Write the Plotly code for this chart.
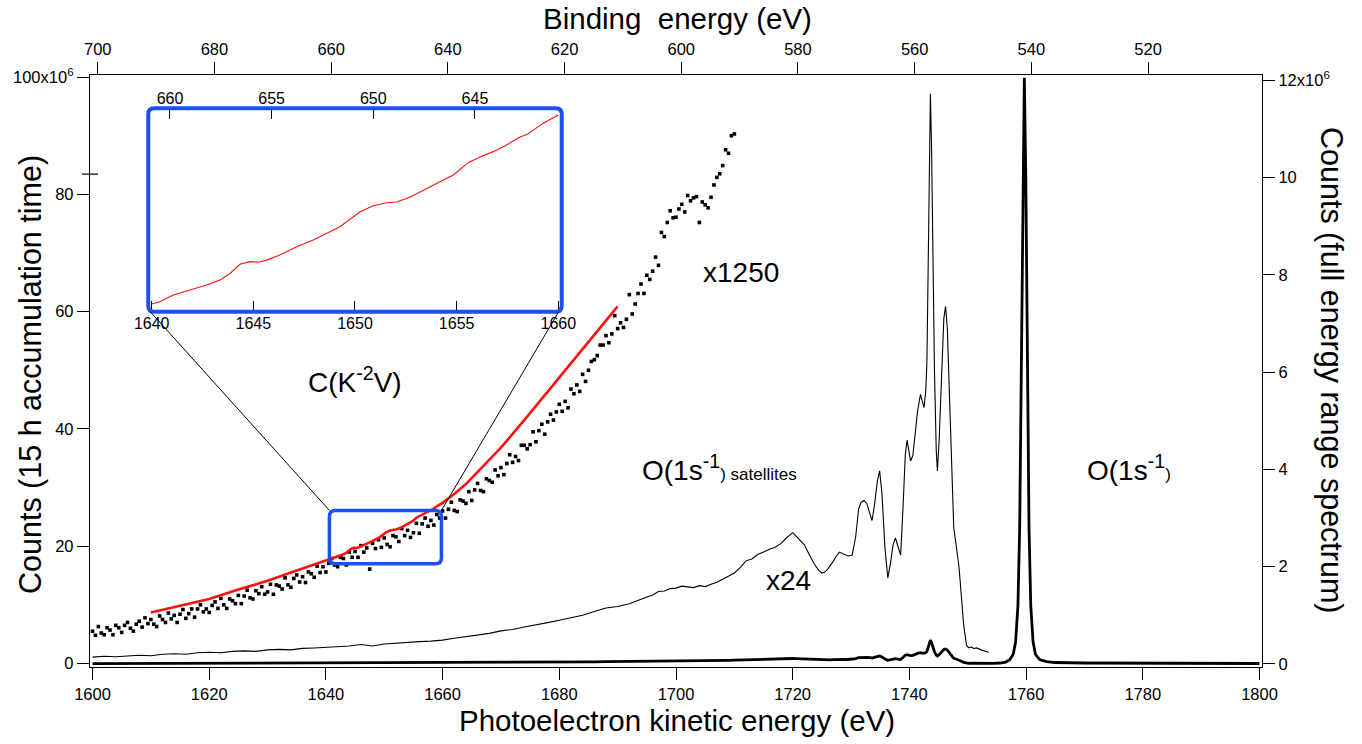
import plotly.graph_objects as go

# ---------------- data ----------------
HV = 2300.9          # binding energy = HV - kinetic energy (eV)
X24 = 24             # magnification of the satellite trace

# satellite region of the full-range spectrum, as drawn magnified x24 (right axis, 1e6 counts)
sat_ke = [1600, 1602, 1604, 1606, 1608, 1610, 1612, 1614, 1616, 1618, 1620, 1622, 1624, 1626,
          1628, 1630, 1632, 1634, 1636, 1638, 1640, 1642, 1644, 1646, 1648, 1650, 1652, 1654,
          1656, 1658, 1660, 1662, 1664, 1666, 1668, 1670, 1672, 1674, 1676, 1678, 1680, 1682,
          1684, 1686, 1688, 1690, 1692, 1694, 1696, 1697, 1698, 1699, 1700, 1701, 1702, 1703,
          1704, 1705, 1706, 1707, 1708, 1709, 1710, 1711, 1712, 1713, 1714, 1715, 1716, 1717,
          1718, 1719, 1719.5, 1720, 1720.5, 1721, 1721.5, 1722, 1722.5, 1723, 1723.5, 1724,
          1724.5, 1725, 1725.5, 1726, 1726.5, 1727, 1727.5, 1728, 1728.5, 1729, 1729.5, 1730.2,
          1730.8, 1731.3, 1731.7, 1732.2, 1732.7, 1733.2, 1733.6, 1734.0, 1734.5, 1734.9, 1735.3,
          1735.8, 1736.3, 1736.8, 1737.2, 1737.6, 1738.0, 1738.5, 1738.9, 1739.3, 1739.6, 1740.0,
          1740.2, 1740.6, 1741.0, 1741.4, 1741.9, 1742.2, 1742.5, 1742.8, 1743.0, 1743.2, 1743.4,
          1743.6, 1743.8, 1744.0, 1744.3, 1744.6, 1744.8, 1745.1, 1745.5, 1745.9, 1746.2, 1746.5,
          1746.9, 1747.3, 1747.6, 1748.0, 1748.5, 1748.9, 1749.3, 1749.8, 1750.2, 1750.6, 1751.0,
          1751.5, 1752.0, 1752.5, 1753.0, 1753.6]
sat_x24 = [0.14, 0.16, 0.15, 0.17, 0.18, 0.17, 0.20, 0.21, 0.20, 0.23, 0.24, 0.23, 0.26, 0.27,
           0.26, 0.29, 0.30, 0.29, 0.32, 0.33, 0.34, 0.36, 0.37, 0.40, 0.37, 0.41, 0.43, 0.44,
           0.46, 0.47, 0.49, 0.53, 0.56, 0.60, 0.63, 0.68, 0.71, 0.76, 0.80, 0.85, 0.90, 0.95,
           1.00, 1.08, 1.15, 1.18, 1.24, 1.33, 1.42, 1.49, 1.50, 1.55, 1.56, 1.60, 1.59, 1.57,
           1.61, 1.59, 1.64, 1.68, 1.74, 1.80, 1.87, 1.98, 2.12, 2.16, 2.25, 2.30, 2.36, 2.40,
           2.48, 2.60, 2.66, 2.70, 2.64, 2.58, 2.52, 2.45, 2.33, 2.20, 2.10, 2.00,
           1.92, 1.87, 1.89, 1.95, 2.03, 2.12, 2.22, 2.30, 2.27, 2.25, 2.22, 2.24,
           2.62, 3.19, 3.32, 3.36, 3.30, 3.10, 2.95, 3.25, 3.75, 3.97, 3.50,
           2.40, 1.77, 2.10, 2.45, 2.59, 2.45, 2.24, 3.20, 4.30, 4.60, 4.30,
           4.17, 4.29, 4.80, 5.20, 5.54, 5.40, 5.27, 5.60, 6.20, 8.00, 10.5,
           11.72, 10.6, 8.5, 6.0, 4.40, 3.97, 4.60, 6.00, 7.10, 7.35, 6.90,
           5.40, 3.60, 2.80, 2.45, 2.00, 1.40, 0.80, 0.38, 0.33, 0.35, 0.32,
           0.33, 0.30, 0.28, 0.26, 0.24]

# main O(1s^-1) line of the full-range spectrum (right axis, 1e6 counts)
peak_ke = [1754.5, 1755.5, 1756.5, 1757.2, 1757.8, 1758.2, 1758.6, 1758.9, 1759.2, 1759.45,
           1759.7, 1759.95, 1760.2, 1760.5, 1760.8, 1761.2, 1761.6, 1762.3, 1763.5, 1765,
           1770, 1780, 1790, 1800]
peak_counts = [0.012, 0.02, 0.04, 0.09, 0.2, 0.45, 1.2, 2.8, 6.0, 10.0,
               12.05, 10.0, 6.0, 2.8, 1.2, 0.45, 0.2, 0.09, 0.05, 0.03,
               0.02, 0.015, 0.012, 0.01]

# 15 h accumulation, x1250 (left axis, 1e6 counts), sampled every 0.5 eV from 1600 eV
dots_start, dots_step = 1600.0, 0.5
dots_counts = [
    5.5, 4.8, 6.3, 5.2, 4.9, 6.1, 5.7, 4.9, 6.5, 6.1,
    5.3, 6.5, 7.0, 6.0, 5.5, 6.7, 7.2, 6.2, 7.8, 6.8,
    7.5, 6.7, 6.3, 8.1, 7.5, 7.0, 8.6, 7.6, 8.2, 7.0,
    8.4, 9.2, 7.7, 8.5, 9.3, 7.9, 9.3, 10.0, 8.8, 9.3,
    8.7, 9.9, 10.5, 9.4, 11.1, 10.0, 9.4, 11.0, 10.7, 10.2,
    11.6, 10.2, 11.5, 12.5, 11.2, 11.0, 12.4, 11.9, 13.1, 11.8,
    12.2, 13.5, 11.8, 13.4, 13.2, 12.7, 14.6, 13.4, 13.0, 14.5,
    15.1, 13.9, 14.8, 13.8, 15.6, 15.3, 14.7, 16.6, 15.5, 16.5,
    15.6, 17.1, 17.9, 16.8, 16.5, 18.1, 17.9, 16.8, 19.0, 18.1,
    19.1, 18.1, 20.1, 19.0, 19.7, 16.1, 20.5, 19.6, 21.1, 19.8,
    21.4, 20.3, 19.9, 21.8, 21.6, 20.8, 23.0, 21.8, 22.7, 21.5,
    22.3, 23.9, 22.2, 23.8, 24.8, 23.4, 24.4, 23.6, 25.4, 24.8,
    26.0, 24.8, 26.3, 27.5, 26.1, 25.9, 27.9, 27.7, 27.3, 29.3,
    27.8, 29.6, 30.7, 29.5, 29.3, 31.5, 31.2, 30.9, 33.0, 32.0,
    33.4, 32.2, 34.1, 35.6, 34.3, 35.3, 34.6, 37.2, 37.2, 36.6,
    37.3, 39.5, 37.8, 39.7, 40.8, 39.1, 41.2, 42.5, 41.5, 42.9,
    44.2, 43.0, 44.7, 43.6, 46.8, 46.0, 47.5, 46.4, 49.3, 48.1,
    50.0, 51.5, 51.8, 52.5, 54.3, 54.3, 55.9, 54.7, 56.2, 59.3,
    57.1, 58.1, 57.3, 58.7, 62.9, 59.6, 61.3, 63.1, 64.7, 63.1,
    66.2, 65.5, 66.9, 69.3, 67.9, 73.5, 72.8, 75.2, 77.2, 76.0,
    76.1, 77.5, 78.3, 77.0, 79.8, 78.9, 79.4, 79.6, 75.2, 78.7,
    78.2, 77.7, 79.5, 81.6, 82.9, 83.5, 84.9, 87.6, 87.0, 90.0, 90.3]

# C(K^-2 V) curve (left axis, 1e6 counts); fine detail between 1640 and 1660 eV
red_ke = [1610, 1615, 1620, 1625, 1630, 1635,
          1640.0, 1640.4, 1641.06, 1641.9, 1642.7, 1643.36, 1643.85, 1644.34, 1644.84, 1645.24,
          1645.66, 1646.3, 1647.13, 1647.95, 1648.6, 1649.26, 1650.25, 1650.9, 1651.56, 1652.05,
          1652.7, 1653.36, 1654.18, 1654.84, 1655.57, 1656.15, 1656.8, 1657.46, 1658.1, 1658.5,
          1659.26, 1660.0,
          1662, 1664, 1666.5, 1670, 1674, 1678, 1682, 1686, 1690]
red_counts = [8.7, 9.8, 11.0, 12.6, 14.1, 15.85,
              17.5, 17.62, 17.97, 18.23, 18.5, 18.76, 19.1, 19.58, 19.72, 19.69,
              19.8, 20.07, 20.5, 20.85, 21.2, 21.55, 22.33, 22.65, 22.8, 22.84,
              23.09, 23.47, 23.9, 24.26, 24.9, 25.2, 25.48, 25.83, 26.23, 26.4,
              26.97, 27.4,
              28.9, 30.6, 33.2, 36.8, 41.5, 46.3, 51.2, 56.0, 60.9]

# zoomed region shown in the inset
zoom_ke = (1640.6, 1659.8)
zoom_counts = (17.0, 26.1)

x_ticks = list(range(1600, 1801, 20))
be_ticks = list(range(520, 701, 20))
left_ticks = [0, 20, 40, 60, 80, 100]
left_text = ["0", "20", "40", "60", "80", "100x10<sup>6</sup>"]
right_ticks = [0, 2, 4, 6, 8, 10, 12]
right_text = ["0", "2", "4", "6", "8", "10", "12x10<sup>6</sup>"]
inset_ticks = [1640, 1645, 1650, 1655, 1660]
inset_be_ticks = [645, 650, 655, 660]

# ---------------- derived series ----------------
full_ke = sat_ke + peak_ke
full_counts = [v / X24 for v in sat_x24] + peak_counts
dots_ke = [dots_start + i * dots_step for i in range(len(dots_counts))]
inset_ke = [k for k in red_ke if 1640 <= k <= 1660]
inset_counts = [c for k, c in zip(red_ke, red_counts) if 1640 <= k <= 1660]

# ---------------- layout geometry ----------------
W, H = 1362, 744
ML, MR, MT, MB = 90, 100, 75, 77
X_RANGE = [1599.57, 1800.43]
YL_RANGE = [-0.6, 100.35]
YR_RANGE = [-0.062, 12.107]
INSET_X = [0.0497, 0.4025]
INSET_Y = [0.6002, 0.9438]
INSET_XR = [1639.83, 1660.17]
INSET_YR = [17.1, 27.75]
PW, PH = W - ML - MR, H - MT - MB

FONT = "Liberation Sans, Arial, Helvetica, sans-serif"
BLUE = "#1c4ff6"

fig = go.Figure()
fig.add_trace(go.Scatter(x=full_ke, y=full_counts, mode="lines", yaxis="y2",
                         line=dict(color="black", width=2.8), hoverinfo="skip"))
fig.add_trace(go.Scatter(x=sat_ke, y=sat_x24, mode="lines", yaxis="y2",
                         line=dict(color="black", width=1.1), hoverinfo="skip"))
fig.add_trace(go.Scatter(x=dots_ke, y=dots_counts, mode="markers",
                         marker=dict(symbol="square", size=3.6, color="black", line=dict(width=0)),
                         hoverinfo="skip"))
fig.add_trace(go.Scatter(x=red_ke, y=red_counts, mode="lines",
                         line=dict(color="#ff1010", width=2.6), hoverinfo="skip"))
# dummy on the top (binding energy) axis
fig.add_trace(go.Scatter(x=[HV - 1700], y=[None], xaxis="x2", mode="markers",
                         showlegend=False, hoverinfo="skip"))
# inset
fig.add_trace(go.Scatter(x=inset_ke, y=inset_counts, mode="lines", xaxis="x3", yaxis="y3",
                         line=dict(color="#ff1010", width=1.1), hoverinfo="skip"))
fig.add_trace(go.Scatter(x=[HV - 1650], y=[None], xaxis="x4", yaxis="y3", mode="markers",
                         showlegend=False, hoverinfo="skip"))

axis_common = dict(showgrid=False, zeroline=False, showline=True, linecolor="black",
                   linewidth=1.3, ticks="outside", ticklen=12, tickwidth=1.2, tickcolor="black",
                   tickfont=dict(family=FONT, size=16.5, color="black"))

fig.update_layout(
    width=W, height=H, margin=dict(l=ML, r=MR, t=MT, b=MB),
    paper_bgcolor="white", plot_bgcolor="white", showlegend=False,
    font=dict(family=FONT, color="black"),
    xaxis=dict(range=X_RANGE, tickvals=x_ticks, **axis_common),
    xaxis2=dict(range=[HV - X_RANGE[0], HV - X_RANGE[1]], overlaying="x", side="top",
                anchor="y", tickvals=be_ticks, **axis_common),
    yaxis=dict(range=YL_RANGE, tickvals=left_ticks, ticktext=left_text, **axis_common),
    yaxis2=dict(range=YR_RANGE, overlaying="y", side="right", anchor="x",
                tickvals=right_ticks, ticktext=right_text, **axis_common),
    xaxis3=dict(domain=INSET_X, anchor="y3", range=INSET_XR, tickvals=inset_ticks,
                showgrid=False, zeroline=False, showline=False, ticks="inside", ticklen=11,
                tickwidth=1.2, tickcolor="black",
                tickfont=dict(family=FONT, size=16, color="black")),
    xaxis4=dict(overlaying="x3", side="top", anchor="y3",
                range=[HV - INSET_XR[0], HV - INSET_XR[1]], tickvals=inset_be_ticks,
                showgrid=False, zeroline=False, showline=False, ticks="inside", ticklen=11,
                tickwidth=1.2, tickcolor="black",
                tickfont=dict(family=FONT, size=16, color="black")),
    yaxis3=dict(domain=INSET_Y, anchor="x3", range=INSET_YR, showticklabels=False,
                showgrid=False, zeroline=False, showline=False, ticks=""),
)


def rounded(x0, x1, y0, y1, rx, ry):
    return (f"M {x0 + rx},{y0} L {x1 - rx},{y0} Q {x1},{y0} {x1},{y0 + ry} "
            f"L {x1},{y1 - ry} Q {x1},{y1} {x1 - rx},{y1} L {x0 + rx},{y1} "
            f"Q {x0},{y1} {x0},{y1 - ry} L {x0},{y0 + ry} Q {x0},{y0} {x0 + rx},{y0} Z")


def to_paper_x(v):
    return (v - X_RANGE[0]) / (X_RANGE[1] - X_RANGE[0])


def to_paper_y(v):
    return (v - YL_RANGE[0]) / (YL_RANGE[1] - YL_RANGE[0])


shapes = []
# inset frame
shapes.append(dict(type="path", xref="paper", yref="paper",
                   path=rounded(INSET_X[0], INSET_X[1], INSET_Y[0], INSET_Y[1], 6 / PW, 6 / PH),
                   line=dict(color=BLUE, width=4)))
# zoom box in the main plot
zx0, zx1 = to_paper_x(zoom_ke[0]), to_paper_x(zoom_ke[1])
zy0, zy1 = to_paper_y(zoom_counts[0]), to_paper_y(zoom_counts[1])
shapes.append(dict(type="path", xref="paper", yref="paper",
                   path=rounded(zx0, zx1, zy0, zy1, 6 / PW, 6 / PH),
                   line=dict(color=BLUE, width=3.5)))
# connectors
shapes.append(dict(type="line", xref="paper", yref="paper", x0=zx0, y0=zy1,
                   x1=INSET_X[0] + 2 / PW, y1=INSET_Y[0], line=dict(color="black", width=1)))
shapes.append(dict(type="line", xref="paper", yref="paper", x0=zx1, y0=zy1,
                   x1=INSET_X[1] - 3 / PW, y1=INSET_Y[0], line=dict(color="black", width=1)))
# extra tick crossing the left axis
shapes.append(dict(type="line", xref="paper", yref="y2", x0=-8 / PW, x1=8 / PW, y0=10.07,
                   y1=10.07, line=dict(color="black", width=1.2)))
fig.update_layout(shapes=shapes)


def px(xp, yp):
    return (xp - ML) / PW, (H - MB - yp) / PH


ann = []
TS = 28
small = "<span style='font-size:17px'>"
for text, (xp, yp), xa, ta, size in [
    ("Photoelectron kinetic energy (eV)", (677, 720), "center", 0, 29.5),
    ("Binding\u00a0 energy (eV)", (677, 18), "center", 0, 29.5),
    ("Counts (15 h accumulation time)", (30, 375), "center", -90, 30.5),
    ("Counts (full energy range spectrum)", (1332, 371), "center", 90, 30.5),
    ("x1250", (741, 272), "center", 0, TS),
    ("C(K<sup>-2</sup>V)", (355, 380), "center", 0, TS),
    ("O(1s<sup>-1</sup>" + small + ") satellites</span>", (640, 468), "left", 0, TS),
    ("x24", (788, 580), "center", 0, TS),
    ("O(1s<sup>-1</sup>" + small + ")</span>", (1085, 468), "left", 0, TS),
]:
    x, y = px(xp, yp)
    ann.append(dict(text=text, x=x, y=y, xref="paper", yref="paper", xanchor=xa,
                    yanchor="middle", textangle=ta, showarrow=False,
                    font=dict(family=FONT, size=size, color="black")))
fig.update_layout(annotations=ann)

fig.write_html("out.html", config={"displayModeBar": False},
               post_script="document.body.style.margin='0px';")
